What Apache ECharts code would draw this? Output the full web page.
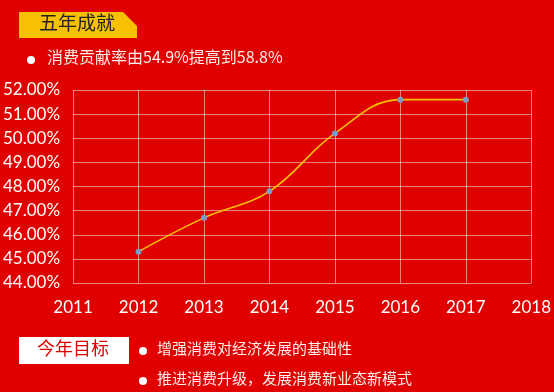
<!DOCTYPE html>
<html><head><meta charset="utf-8">
<script src="https://cdn.jsdelivr.net/npm/echarts@6/dist/echarts.min.js"></script>
<style>html,body{margin:0;padding:0;background:#e00000;}#c{width:554px;height:392px;}</style>
</head><body><div id="c"></div>
<script>
const years = [2012, 2013, 2014, 2015, 2016, 2017];
const rates = [45.3, 46.7, 47.8, 50.2, 51.6, 51.6];
const title = '五年成就';
const subtitle = '消费贡献率由54.9%提高到58.8%';
const goalTitle = '今年目标';
const goals = ['增强消费对经济发展的基础性', '推进消费升级，发展消费新业态新模式'];

const chart = echarts.init(document.getElementById('c'));
const cjk = '"Noto Sans CJK SC", sans-serif';
chart.setOption({
  backgroundColor: '#e00000',
  animation: false,
  grid: {left: 73, right: 22, top: 90, bottom: 109},
  xAxis: {
    type: 'value', min: 2011, max: 2018, interval: 1,
    axisLine: {show: false}, axisTick: {show: false},
    splitLine: {show: true, lineStyle: {color: 'rgba(255,255,255,0.5)', width: 1}},
    axisLabel: {color: '#fff', fontSize: 17, margin: 16, fontFamily: 'Lato, sans-serif', formatter: v => String(v)}
  },
  yAxis: {
    type: 'value', min: 44, max: 52, interval: 1,
    axisLine: {show: false}, axisTick: {show: false},
    splitLine: {show: true, lineStyle: {color: 'rgba(255,255,255,0.5)', width: 1}},
    axisLabel: {color: '#fff', fontSize: 17, margin: 13, fontFamily: 'Lato, sans-serif', formatter: v => v.toFixed(2) + '%'}
  },
  series: [{
    type: 'line', smooth: 0.4,
    data: years.map((y, i) => [y, rates[i]]),
    symbol: 'circle', symbolSize: 6,
    itemStyle: {color: '#7a9cc8'},
    lineStyle: {color: '#f7c000', width: 1.6}
  }],
  graphic: [
    {type: 'polygon', shape: {points: [[19,12],[123,12],[137,26],[137,38],[19,38]]}, style: {fill: '#f7c000'}},
    {type: 'text', left: 39, top: 13, style: {text: title, font: '19px ' + cjk, fill: '#222'}},
    {type: 'circle', shape: {cx: 31, cy: 60, r: 4}, style: {fill: '#fff'}},
    {type: 'text', left: 47, top: 49, style: {text: subtitle, font: '16px ' + cjk, fill: '#ffecec'}},
    {type: 'rect', shape: {x: 19, y: 337, width: 110, height: 27}, style: {fill: '#fff'}},
    {type: 'text', left: 37, top: 339, style: {text: goalTitle, font: '18px ' + cjk, fill: '#e00000'}},
    {type: 'circle', shape: {cx: 143, cy: 351, r: 4}, style: {fill: '#fff'}},
    {type: 'text', left: 157, top: 341, style: {text: goals[0], font: '15px ' + cjk, fill: '#ffecec'}},
    {type: 'circle', shape: {cx: 143, cy: 381, r: 4}, style: {fill: '#fff'}},
    {type: 'text', left: 157, top: 371, style: {text: goals[1], font: '15px ' + cjk, fill: '#ffecec'}}
  ]
});
</script></body></html>
